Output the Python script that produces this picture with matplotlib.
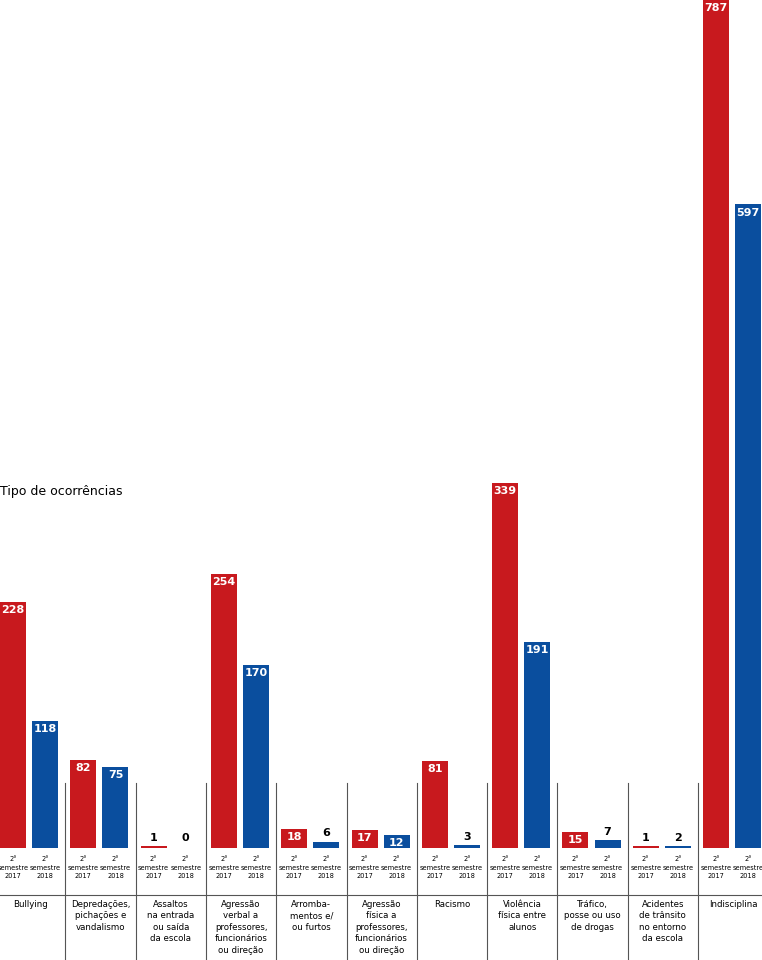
import matplotlib
matplotlib.use("Agg")
import matplotlib.pyplot as plt

categories = [
    "Bullying",
    "Depredações,\npichações e\nvandalismo",
    "Assaltos\nna entrada\nou saída\nda escola",
    "Agressão\nverbal a\nprofessores,\nfuncionários\nou direção",
    "Arromba-\nmentos e/\nou furtos",
    "Agressão\nfísica a\nprofessores,\nfuncionários\nou direção",
    "Racismo",
    "Violência\nfísica entre\nalunos",
    "Tráfico,\nposse ou uso\nde drogas",
    "Acidentes\nde trânsito\nno entorno\nda escola",
    "Indisciplina",
]
sem2017 = [228, 82, 1, 254, 18, 17, 81, 339, 15, 1, 787]
sem2018 = [118, 75, 0, 170, 6, 12, 3, 191, 7, 2, 597]
period_labels = ["2°\nsemestre\n2017", "2°\nsemestre\n2018"]

RED = "#c8191e"
BLUE = "#0a4e9e"
FONT = "DejaVu Sans"

W, H = 762, 960
GROUP = 70.3
BASE = 848          # pixel row of the bar baseline
PX_PER_UNIT = 1.078

fig = plt.figure(figsize=(W / 100, H / 100), dpi=100)
ax = fig.add_axes([0, 0, 1, 1])
x0 = 5 / GROUP
ax.set_xlim(x0, x0 + W / GROUP)
ax.set_ylim(-(H - BASE) / PX_PER_UNIT, BASE / PX_PER_UNIT)
ax.axis("off")

def py(p):
    """pixel row -> data y"""
    return (BASE - p) / PX_PER_UNIT

bw = 26 / GROUP
for i, (a, b) in enumerate(zip(sem2017, sem2018)):
    for k, (off, v, col) in enumerate(((0.257, a, RED), (0.714, b, BLUE))):
        xc = i + off
        ax.bar(xc, max(v, 1.5) if v > 0 else 0, width=bw, color=col)
        if v >= 10:
            ax.text(xc, v - 3, str(v), ha="center", va="top", color="white",
                    fontsize=8, fontweight="bold", family=FONT)
        else:
            ax.text(xc, max(v, 1.5) + 3, str(v), ha="center", va="bottom",
                    color="black", fontsize=8, fontweight="bold", family=FONT)
        ax.text(xc, py(856), period_labels[k], ha="center",
                va="top", fontsize=4.8, linespacing=1.55, family=FONT)
    ax.text(i + 0.5, py(900), categories[i], ha="center", va="top",
            fontsize=6.2, linespacing=1.35, family=FONT)
    if i > 0:
        ax.plot([i, i], [py(783), py(960)], color="#555555", lw=0.8)

ax.axhline(py(895), color="#555555", lw=0.8)
ax.text(x0, py(492), "Tipo de ocorrências", ha="left", va="center",
        fontsize=9, family=FONT)

fig.savefig("out.png", dpi=100)
